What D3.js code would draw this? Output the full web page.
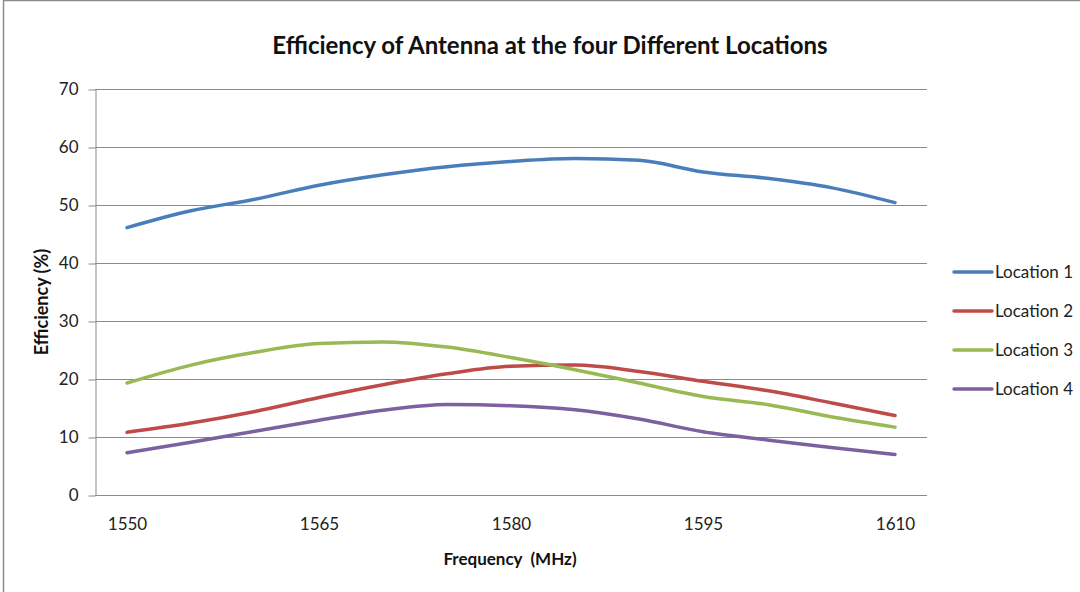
<!DOCTYPE html>
<html>
<head>
<meta charset="utf-8">
<script src="https://cdn.jsdelivr.net/npm/d3@7"></script>
<style>
  html, body { margin: 0; padding: 0; background: #fff; }
  svg { display: block; font-family: Lato, "Open Sans", sans-serif; }
</style>
</head>
<body>
<svg id="chart" width="1080" height="592"></svg>
<script>
// Frequencies (MHz) on the category axis
const frequencies = [1550, 1555, 1560, 1565, 1570, 1575, 1580, 1585, 1590, 1595, 1600, 1605, 1610];
const frequencyTicks = [1550, 1565, 1580, 1595, 1610];
const efficiencyTicks = [0, 10, 20, 30, 40, 50, 60, 70];

// Measured efficiency (%) at each location
const location1 = [46.1, 49.0, 51.0, 53.4, 55.2, 56.6, 57.5, 58.0, 57.7, 55.7, 54.6, 53.0, 50.4];
const location2 = [10.8, 12.4, 14.4, 16.8, 19.0, 20.9, 22.2, 22.4, 21.3, 19.6, 18.0, 15.9, 13.7];
const location3 = [19.3, 22.4, 24.6, 26.1, 26.4, 25.5, 23.7, 21.6, 19.3, 17.0, 15.6, 13.5, 11.7];
const location4 = [7.3, 9.1, 11.0, 12.9, 14.6, 15.6, 15.4, 14.7, 13.1, 10.9, 9.5, 8.2, 7.0];

const seriesNames = ["Location 1", "Location 2", "Location 3", "Location 4"];
const seriesColors = ["#4A7EBB", "#BE4B48", "#98B954", "#7D60A0"];
const seriesValues = [location1, location2, location3, location4];

const svg = d3.select("#chart");
const W = 1080, H = 592;
const plot = { left: 95, right: 927, top: 89, bottom: 495 };

// Outer chart frame
svg.append("rect").attr("x", 3.5).attr("y", 0.5).attr("width", W + 10).attr("height", H + 10)
  .attr("fill", "none").attr("stroke", "#8c8c8c").attr("stroke-width", 1.5);

const x = d3.scalePoint().domain(frequencies).range([plot.left, plot.right]).padding(0.5);
const y = d3.scaleLinear().domain([0, 70]).range([plot.bottom, plot.top]);

// Horizontal gridlines
svg.append("g").selectAll("line").data(efficiencyTicks.filter(d => d > 0)).join("line")
  .attr("x1", plot.left).attr("x2", plot.right)
  .attr("y1", d => Math.round(y(d)) + 0.5).attr("y2", d => Math.round(y(d)) + 0.5)
  .attr("stroke", "#8a8a8a").attr("stroke-width", 1);

// Y axis
const yAxis = svg.append("g").attr("transform", `translate(${plot.left + 0.5},0.5)`)
  .call(d3.axisLeft(y).tickValues(efficiencyTicks).tickSize(7).tickPadding(10).tickSizeOuter(0));
yAxis.select(".domain").attr("stroke", "#8a8a8a");
yAxis.selectAll(".tick line").attr("stroke", "#8a8a8a");
yAxis.selectAll(".tick text").attr("font-size", 17).attr("fill", "#222")
  .attr("font-family", "Lato, sans-serif");

// X axis
const xAxis = svg.append("g").attr("transform", `translate(0,${plot.bottom + 0.5})`)
  .call(d3.axisBottom(x).tickValues(frequencyTicks).tickSize(0).tickPadding(22).tickSizeOuter(0));
xAxis.select(".domain").attr("stroke", "#8a8a8a").attr("d", `M${plot.left},0H${plot.right}`);
xAxis.selectAll(".tick text").attr("font-size", 17).attr("fill", "#222")
  .attr("font-family", "Lato, sans-serif");

// Series lines
const line = d3.line()
  .x((d, i) => x(frequencies[i]))
  .y(d => y(d))
  .curve(d3.curveMonotoneX);

svg.append("g").selectAll("path").data(seriesValues).join("path")
  .attr("d", d => line(d))
  .attr("fill", "none")
  .attr("stroke", (d, i) => seriesColors[i])
  .attr("stroke-width", 3.5)
  .attr("stroke-linecap", "round")
  .attr("stroke-linejoin", "round");

// Legend
const legend = svg.append("g").selectAll("g").data(seriesNames).join("g")
  .attr("transform", (d, i) => `translate(954,${272 + i * 39})`);
legend.append("line").attr("x1", 0).attr("x2", 38).attr("y1", 0).attr("y2", 0)
  .attr("stroke", (d, i) => seriesColors[i]).attr("stroke-width", 3.5).attr("stroke-linecap", "round");
legend.append("text").attr("x", 41).attr("y", 0).attr("dy", "0.35em")
  .attr("font-size", 17).attr("fill", "#222").text(d => d);

// Title
svg.append("text").attr("x", 550).attr("y", 54).attr("text-anchor", "middle")
  .attr("font-size", 24).attr("font-weight", "bold").attr("fill", "#111")
  .text("Efficiency of Antenna at the four Different Locations");

// Axis titles
svg.append("text").attr("x", 510).attr("y", 565).attr("text-anchor", "middle")
  .attr("font-size", 17).attr("font-weight", "bold").attr("fill", "#111")
  .style("white-space", "pre")
  .text("Frequency  (MHz)");

svg.append("text").attr("transform", "translate(48,302) rotate(-90)")
  .attr("text-anchor", "middle")
  .attr("font-size", 18).attr("font-weight", "bold").attr("fill", "#111")
  .text("Efficiency (%)");
</script>
</body>
</html>
